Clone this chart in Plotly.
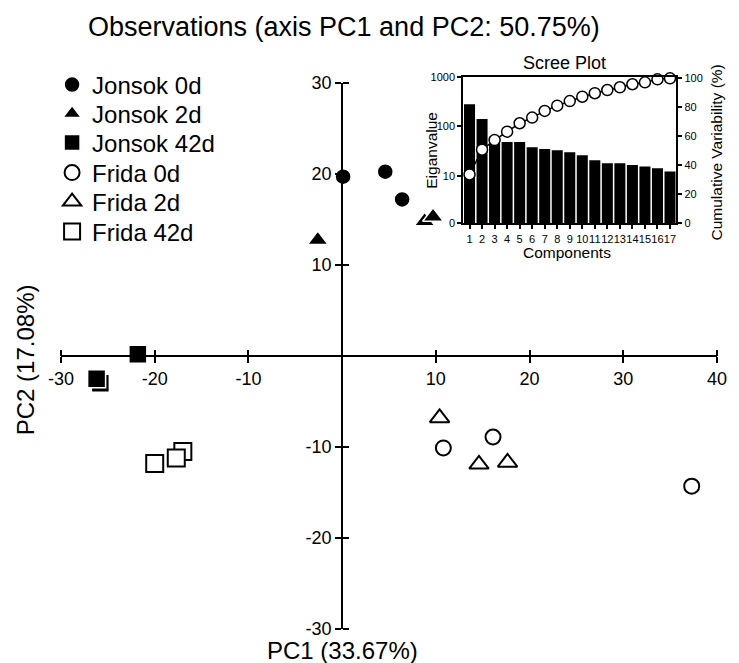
import plotly.graph_objects as go

FONT = "Liberation Sans, Arial, Helvetica, sans-serif"

# ---- main PCA scatter data (PC1, PC2) ----
jonsok_0d_x = [0.1, 4.6, 6.4]
jonsok_0d_y = [19.7, 20.25, 17.2]
jonsok_2d_x = [8.8, -2.6, 9.7]
jonsok_2d_y = [14.8, 12.75, 15.3]
jonsok_42d_x = [-25.8, -26.2, -21.8]
jonsok_42d_y = [-3.0, -2.5, 0.2]
frida_0d_x = [10.8, 16.1, 37.3]
frida_0d_y = [-10.1, -8.9, -14.3]
frida_2d_x = [10.4, 14.6, 17.65]
frida_2d_y = [-6.8, -11.9, -11.7]
frida_42d_x = [-17.0, -17.7, -20.0]
frida_42d_y = [-10.5, -11.2, -11.8]

main_xticks = [-30, -20, -10, 10, 20, 30, 40]
main_xtext = ["-30", "-20", "-10", "10", "20", "30", "40"]
main_yticks = [-30, -20, -10, 10, 20, 30]
main_ytext = ["-30", "-20", "-10", "10", "20", "30"]

# ---- scree plot data ----
components = list(range(1, 18))
eigenvalues = [278, 140, 62, 48, 48, 38, 35, 33, 30, 26, 20.6, 18, 18, 16.6, 15.4, 14.2, 12.2]
cumulative = [33.67, 50.75, 57.4, 63.2, 69.0, 72.9, 77.5, 81.1, 84.3, 87.3, 89.7, 91.9, 93.8, 95.9, 97.2, 99.3, 100]
eig_tickvals = [1.107, 10, 100, 1000]
eig_ticktext = ["0", "10", "100", "1000"]
cum_ticks = [0, 20, 40, 60, 80, 100]

fig = go.Figure()

legend_ids = ["legend", "legend2", "legend3", "legend4", "legend5", "legend6"]
legend_rows_y = [0.97317, 0.92129, 0.86941, 0.81574, 0.76386, 0.71020]

def add_group(i, name, xs, ys, sym, size, fill, edge, ew):
    fig.add_trace(go.Scatter(
        x=xs, y=ys, mode="markers", name=name, cliponaxis=False,
        legend=legend_ids[i],
        marker=dict(symbol=sym, size=size, color=fill,
                    line=dict(color=edge, width=ew))))

add_group(0, "Jonsok 0d", jonsok_0d_x, jonsok_0d_y, "circle", 16, "black", "white", 1.5)
add_group(1, "Jonsok 2d", jonsok_2d_x, jonsok_2d_y, "triangle-up", 18, "black", "white", 1.5)
add_group(2, "Jonsok 42d", jonsok_42d_x, jonsok_42d_y, "square", 18, "black", "white", 1.5)
add_group(3, "Frida 0d", frida_0d_x, frida_0d_y, "circle", 15, "white", "black", 2)
add_group(4, "Frida 2d", frida_2d_x, frida_2d_y, "triangle-up", 17, "white", "black", 2)
add_group(5, "Frida 42d", frida_42d_x, frida_42d_y, "square", 17, "white", "black", 2)

# invisible trace to carry the mirrored tick axes
fig.add_trace(go.Scatter(x=[None], y=[None], xaxis="x3", yaxis="y4",
                         showlegend=False, hoverinfo="skip"))

# scree bars
fig.add_trace(go.Bar(x=components, y=eigenvalues, xaxis="x2", yaxis="y2",
                     marker=dict(color="black", line=dict(width=0)),
                     showlegend=False))
# cumulative line
fig.add_trace(go.Scatter(x=components, y=cumulative, xaxis="x2", yaxis="y3",
                         mode="lines+markers", showlegend=False, cliponaxis=False,
                         line=dict(color="black", width=1.5),
                         marker=dict(symbol="circle", size=11, color="white",
                                     line=dict(color="black", width=1.5))))

Y_TOP = 0.97674
X_POS = 0.48837
Y_POS = 30 / 70

axis_common = dict(showgrid=False, zeroline=False, color="black")

legends = {}
for lid, ly in zip(legend_ids, legend_rows_y):
    legends[lid] = dict(x=-0.0136, y=ly, xanchor="left", yanchor="middle",
                        font=dict(size=24, family=FONT, color="black"),
                        bgcolor="rgba(0,0,0,0)", itemsizing="trace")

fig.update_layout(
    width=739, height=663,
    margin=dict(l=61, r=18, t=70, b=34),
    paper_bgcolor="white", plot_bgcolor="white",
    font=dict(family=FONT, color="black"),
    showlegend=True,
    bargap=0.12,
    **legends,
    xaxis=dict(**axis_common, domain=[0, 1], range=[-30, 40], anchor="free",
               position=X_POS, showline=True, linewidth=2, linecolor="black",
               ticks="outside", ticklen=6, tickwidth=2, tickcolor="black",
               tickvals=main_xticks, ticktext=main_xtext, tickfont=dict(size=18)),
    yaxis=dict(**axis_common, domain=[0, Y_TOP], range=[-30, 30], anchor="free",
               position=Y_POS, showline=True, linewidth=2, linecolor="black",
               ticks="outside", ticklen=6, tickwidth=2, tickcolor="black",
               tickvals=main_yticks, ticktext=main_ytext, tickfont=dict(size=18)),
    xaxis3=dict(**axis_common, overlaying="x", side="top", range=[-30, 40],
                anchor="free", position=X_POS, showline=False,
                ticks="outside", ticklen=6, tickwidth=2, tickcolor="black",
                tickvals=main_xticks, showticklabels=False),
    yaxis4=dict(**axis_common, overlaying="y", side="right", range=[-30, 30],
                anchor="free", position=Y_POS, showline=False,
                ticks="outside", ticklen=6, tickwidth=2, tickcolor="black",
                tickvals=main_yticks, showticklabels=False),
    xaxis2=dict(**axis_common, domain=[0.6132, 0.9379], range=[0.5, 17.5],
                anchor="y2", showline=True, linewidth=2, linecolor="black",
                mirror=True, ticks="outside", ticklen=4, tickwidth=1.5,
                tickcolor="black", tickvals=components, tickangle=0,
                tickfont=dict(size=11)),
    yaxis2=dict(**axis_common, domain=[0.72576, 0.98801], type="log",
                range=[0.044, 3], anchor="x2", showline=True, linewidth=2,
                linecolor="black", ticks="outside", ticklen=4, tickwidth=1.5,
                tickcolor="black", tickvals=eig_tickvals, ticktext=eig_ticktext,
                tickfont=dict(size=11)),
    yaxis3=dict(**axis_common, overlaying="y2", side="right", anchor="x2",
                range=[0, 101.1], showline=True, linewidth=2, linecolor="black",
                ticks="outside", ticklen=4, tickwidth=1.5, tickcolor="black",
                tickvals=cum_ticks, tickfont=dict(size=11)),
)

def py(pix):
    return (629 - pix) / 559

ann = [
    dict(text="Observations (axis PC1 and PC2: 50.75%)", x=(346 - 61) / 660, y=py(27),
         font=dict(size=27)),
    dict(text="Scree Plot", x=0.7674, y=py(63), font=dict(size=18)),
    dict(text="Components", x=0.7708, y=py(252), font=dict(size=15.5)),
    dict(text="Eiganvalue", x=0.5636, y=py(150), textangle=-90, font=dict(size=15.5)),
    dict(text="Cumulative Variability (%)", x=0.9985, y=py(152.5), textangle=-90,
         font=dict(size=15.5)),
    dict(text="PC1 (33.67%)", x=0.4288, y=py(650), font=dict(size=24)),
    dict(text="PC2 (17.08%)", x=-0.0545, y=py(360), textangle=-90, font=dict(size=24)),
]
for a in ann:
    fig.add_annotation(xref="paper", yref="paper", showarrow=False,
                       xanchor="center", yanchor="middle", **a)

fig.write_html("out.html", config={"displayModeBar": False},
               post_script="document.body.style.margin='0px';")
